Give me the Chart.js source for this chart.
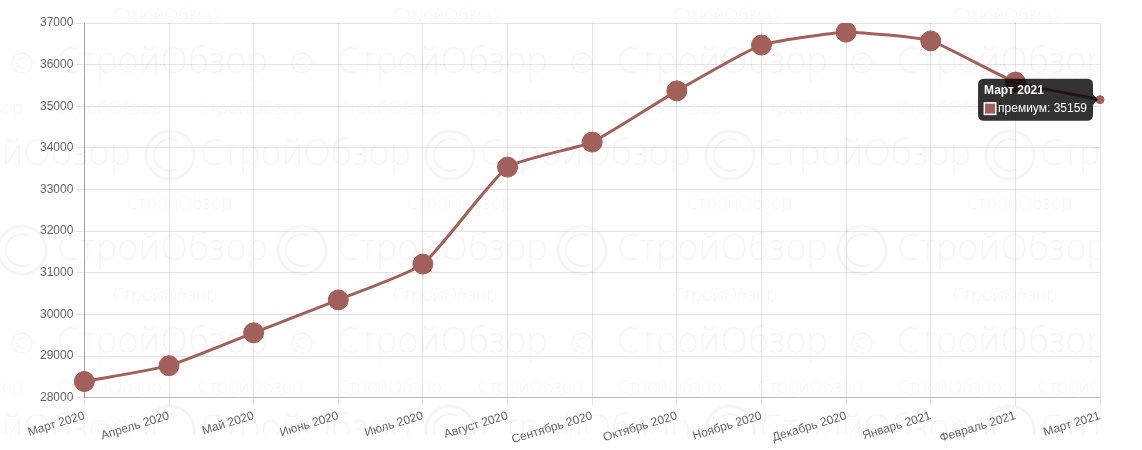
<!DOCTYPE html>
<html>
<head>
<meta charset="utf-8">
<script src="https://cdn.jsdelivr.net/npm/chart.js@4.4.1/dist/chart.umd.min.js"></script>
<style>
  html, body { margin: 0; padding: 0; background: #fff; }
  #wrap { width: 1142px; height: 450px; position: relative; }
</style>
</head>
<body>
<div id="wrap"><canvas id="c" width="1142" height="450"></canvas></div>
<script>
const categories = ['Март 2020', 'Апрель 2020', 'Май 2020', 'Июнь 2020', 'Июль 2020', 'Август 2020',
  'Сентябрь 2020', 'Октябрь 2020', 'Ноябрь 2020', 'Декабрь 2020', 'Январь 2021', 'Февраль 2021', 'Март 2021'];
const seriesName = 'премиум';
const premiumValues = [28390, 28770, 29560, 30350, 31210, 33540, 34140, 35370, 36470, 36780, 36570, 35580, 35159];
const yTicks = [28000, 29000, 30000, 31000, 32000, 33000, 34000, 35000, 36000, 37000];

const LINE_COLOR = '#a2605a';
const WM = 'rgba(0,0,0,0.035)';

function fitText(ctx, txt, x, baseline, width, weight) {
  ctx.font = weight + ' 40px "Open Sans", "Liberation Sans", sans-serif';
  const w = ctx.measureText(txt).width;
  const size = 40 * width / w;
  ctx.font = weight + ' ' + size.toFixed(2) + 'px "Open Sans", "Liberation Sans", sans-serif';
  ctx.fillText(txt, x, baseline);
}
function bigLogo(ctx, cx, cy) {
  ctx.lineWidth = 3;
  ctx.beginPath(); ctx.arc(cx, cy, 24, 0, Math.PI * 2); ctx.stroke();
  ctx.lineWidth = 2;
  ctx.beginPath(); ctx.arc(cx, cy, 16, 0.35 * Math.PI, 1.65 * Math.PI); ctx.stroke();
}
function smallLogo(ctx, cx, cy) {
  ctx.lineWidth = 1.5;
  ctx.beginPath(); ctx.arc(cx, cy, 10, 0, Math.PI * 2); ctx.stroke();
  ctx.beginPath(); ctx.arc(cx, cy, 5, 0.3 * Math.PI, 1.7 * Math.PI); ctx.stroke();
}

const watermark = {
  id: 'watermark',
  beforeDraw(chart) {
    const ctx = chart.ctx;
    ctx.save();
    ctx.fillStyle = '#fff';
    ctx.fillRect(0, 0, chart.width, chart.height);
    ctx.beginPath(); ctx.rect(0, 0, 1100, 435); ctx.clip();
    ctx.fillStyle = WM; ctx.strokeStyle = WM;
    ctx.textAlign = 'left'; ctx.textBaseline = 'alphabetic';
    const T = 'СтройОбзор';
    for (let k = -1; k < 5; k++) {
      const o = 280 * k;
      fitText(ctx, T, 57 + o, 73, 211, '300');
      fitText(ctx, T, 200 + o, 165, 211, '300');
      fitText(ctx, T, 57 + o, 260, 211, '300');
      fitText(ctx, T, 57 + o, 353, 211, '300');
      fitText(ctx, T, 200 + o, 440, 211, '300');
      smallLogo(ctx, 302 + o, 63);
      bigLogo(ctx, 170 + o, 155);
      bigLogo(ctx, 302 + o, 250);
      smallLogo(ctx, 302 + o, 343);
      bigLogo(ctx, 170 + o, 430);
      fitText(ctx, T, 113 + o, 21, 105, '300');
      fitText(ctx, T, 57 + o, 114, 105, '300');
      fitText(ctx, T, 198 + o, 114, 105, '300');
      fitText(ctx, T, 127 + o, 209, 105, '300');
      fitText(ctx, T, 112 + o, 301, 105, '300');
      fitText(ctx, T, 57 + o, 393, 105, '300');
      fitText(ctx, T, 198 + o, 393, 105, '300');
    }
    ctx.restore();
  }
};

const radii = premiumValues.map((v, i) => i === premiumValues.length - 1 ? 4 : 10);

const chart = new Chart(document.getElementById('c'), {
  type: 'line',
  data: {
    labels: categories,
    datasets: [{
      label: seriesName,
      data: premiumValues,
      borderColor: LINE_COLOR,
      backgroundColor: LINE_COLOR,
      pointBackgroundColor: LINE_COLOR,
      pointBorderColor: LINE_COLOR,
      borderWidth: 3,
      pointRadius: radii,
      pointHoverRadius: radii,
      pointBorderWidth: 1,
      tension: 0.15,
      fill: false
    }]
  },
  options: {
    responsive: false,
    animation: false,
    layout: { padding: { left: 37, right: 42, top: 23, bottom: 0 } },
    plugins: {
      legend: { display: false },
      tooltip: {
        backgroundColor: 'rgba(0,0,0,0.8)',
        titleFont: { family: 'Liberation Sans, Arial, sans-serif', size: 12, weight: 'bold', lineHeight: 1 },
        bodyFont: { family: 'Liberation Sans, Arial, sans-serif', size: 12, lineHeight: 1 },
        cornerRadius: 6,
        caretSize: 5,
        displayColors: true,
        callbacks: {
          label: (ctx) => ctx.dataset.label + ': ' + String(ctx.raw),
          labelColor: () => ({ borderColor: '#fff', backgroundColor: LINE_COLOR, borderWidth: 1 })
        }
      }
    },
    scales: {
      x: {
        grid: { color: 'rgba(0,0,0,0.1)', tickLength: 8 },
        border: { color: 'rgba(0,0,0,0.18)' },
        ticks: {
          color: '#666', font: { family: 'Liberation Sans, Arial, sans-serif', size: 12 },
          minRotation: 17, maxRotation: 17, autoSkip: false
        }
      },
      y: {
        min: yTicks[0], max: yTicks[yTicks.length - 1],
        grid: { color: 'rgba(0,0,0,0.1)', tickLength: 8 },
        border: { color: 'rgba(0,0,0,0.3)' },
        afterBuildTicks: (axis) => { axis.ticks = yTicks.map(v => ({ value: v })); },
        ticks: {
          color: '#666', font: { family: 'Liberation Sans, Arial, sans-serif', size: 12 },
          callback: (v) => String(v)
        }
      }
    }
  },
  plugins: [watermark]
});

const last = premiumValues.length - 1;
const meta = chart.getDatasetMeta(0);
const pt = meta.data[last];
chart.tooltip.setActiveElements([{ datasetIndex: 0, index: last }], { x: pt.x, y: pt.y });
chart.update();
</script>
</body>
</html>
